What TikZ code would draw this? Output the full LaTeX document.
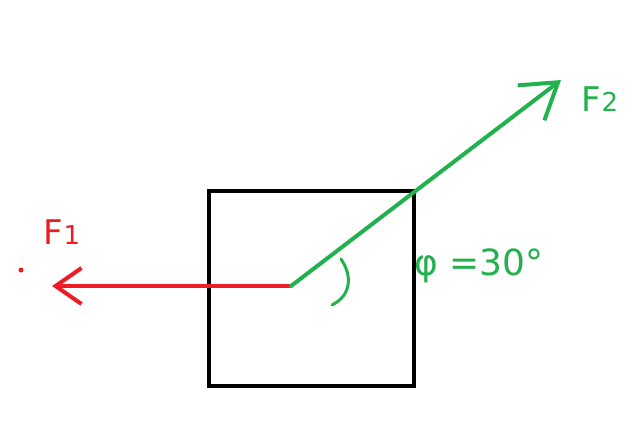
\documentclass[tikz,border=0pt]{standalone}
\usepackage{fontspec}
\setmainfont{DejaVu Sans}
\usetikzlibrary{arrows.meta}
\definecolor{fred}{RGB}{237,28,36}
\definecolor{fgreen}{RGB}{34,177,76}
\tikzset{
  bodybox/.style={draw=black, line width=4pt, minimum width=205pt, minimum height=195pt, inner sep=0pt},
  forcered/.style={draw=fred, line width=4pt, line cap=round, -{Straight Barb[length=26pt,width=36pt,line width=4pt]}},
  forcegreen/.style={draw=fgreen, line width=4pt, line cap=round, -{Straight Barb[length=34pt,width=44pt,line width=4pt]}},
  lbl/.style={inner sep=0pt, font=\fontsize{34}{36}\selectfont},
}
\begin{document}
\begin{tikzpicture}[x=1pt,y=-1pt]
\useasboundingbox (0,0) rectangle (643,432);
\node[bodybox] (box) at (311.5,288.5) {};
\coordinate (O) at (291,286);
\coordinate (f1end) at (52,286);
\coordinate (f2end) at (561,80);
\draw[forcered] (O) -- (f1end);
\draw[forcegreen] (O) -- (f2end);
\fill[fred] (21,270) circle (2.5pt);
\node[lbl, text=fred] (F1) at (62,232) {F\fontsize{26}{28}\selectfont 1};
\node[lbl, text=fgreen] (F2) at (600,99) {F\fontsize{26}{28}\selectfont 2};
\node[lbl, text=fgreen, anchor=west, font=\fontsize{36}{38}\selectfont] (phi) at (414,266) {φ =30°};
\coordinate (a1) at (341,259);
\coordinate (a2) at (332,305);
\draw[fgreen, line width=3pt, line cap=round] (a1) .. controls (352,275) and (352,295) .. (a2);
\end{tikzpicture}
\end{document}
